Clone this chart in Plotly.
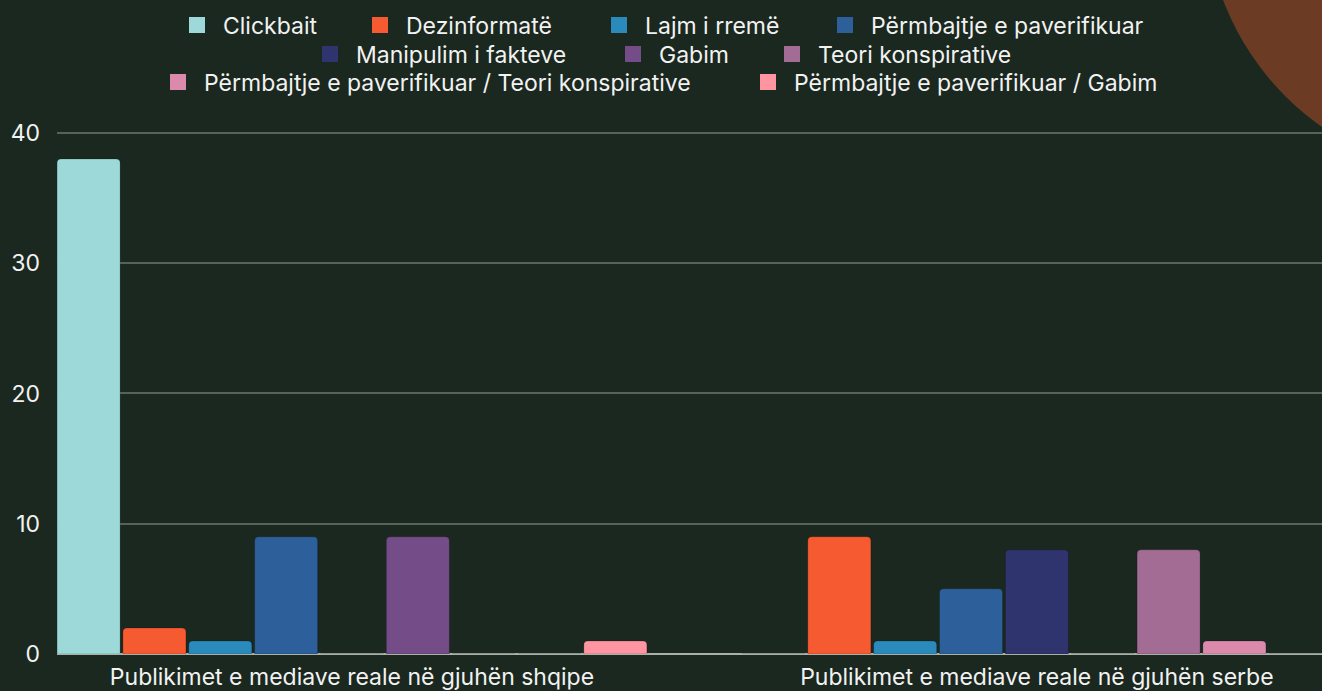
import plotly.graph_objects as go

categories = ["Publikimet e mediave reale në gjuhën shqipe",
              "Publikimet e mediave reale në gjuhën serbe"]

series_names = ["Clickbait", "Dezinformatë", "Lajm i rremë", "Përmbajtje e paverifikuar",
                "Manipulim i fakteve", "Gabim", "Teori konspirative",
                "Përmbajtje e paverifikuar / Teori konspirative",
                "Përmbajtje e paverifikuar / Gabim"]

clickbait = [38, 0]
dezinformate = [2, 9]
lajm_i_rreme = [1, 1]
permbajtje_paverifikuar = [9, 5]
manipulim = [0, 8]
gabim = [9, 0]
teori_konspirative = [0, 8]
pv_teori = [0, 1]
pv_gabim = [1, 0]

series_values = [clickbait, dezinformate, lajm_i_rreme, permbajtje_paverifikuar,
                 manipulim, gabim, teori_konspirative, pv_teori, pv_gabim]

colors = ["#9ed9da", "#f65a31", "#2a8abc", "#2d5f9a", "#30346e",
          "#744c88", "#a26c95", "#dc8aac", "#fe95a0"]

y_ticks = [0, 10, 20, 30, 40]

# legend layout: (text start x px, row centre y px)
legend_pos = [(223, 25), (406, 25), (645, 25), (871, 25),
              (356, 54), (659, 54), (818, 54),
              (204, 82), (794, 82)]

W, H = 1322, 691
BG = "#1b281f"
TXT = "#f2f2f2"
FONT = "Inter"
FS = 23

fig = go.Figure()
for i, (name, vals, col) in enumerate(zip(series_names, series_values, colors)):
    lg = "legend" if i == 0 else f"legend{i + 1}"
    fig.add_trace(go.Bar(
        name=name, x=categories, y=vals, showlegend=False, legendgroup=name,
        marker=dict(color=col, cornerradius=4,
                    line=dict(color="rgba(0,0,0,0.18)", width=1)),
    ))
    # legend-only entry (square swatch)
    fig.add_trace(go.Scatter(
        name=name, x=[None], y=[None], mode="markers", legend=lg, legendgroup=name,
        marker=dict(symbol="square", size=16, color=col), hoverinfo="skip",
    ))

legends = {}
for i, (tx, ty) in enumerate(legend_pos):
    key = "legend" if i == 0 else f"legend{i + 1}"
    legends[key] = dict(orientation="h", xref="container", yref="container",
                        x=(tx - 52) / W, xanchor="left",
                        y=1 - ty / H, yanchor="middle", itemwidth=42,
                        font=dict(family=FONT, size=FS, color=TXT),
                        bgcolor="rgba(0,0,0,0)", borderwidth=0,
                        itemclick=False, itemdoubleclick=False)

fig.update_layout(
    width=W, height=H,
    paper_bgcolor=BG, plot_bgcolor=BG,
    barmode="group", bargap=0.1347, bargroupgap=0.043,
    margin=dict(l=57, r=0, t=129, b=37),
    font=dict(family=FONT, size=FS, color=TXT),
    xaxis=dict(type="category", range=[-0.4307, 1.4163], showgrid=False,
               ticks="", showline=False, zeroline=False,
               tickfont=dict(family=FONT, size=FS, color=TXT),
               ticklabelstandoff=7),
    yaxis=dict(range=[0, 40.3], tickvals=y_ticks, showgrid=True,
               gridcolor="#56625a", gridwidth=1.5,
               zeroline=True, zerolinecolor="#a9b1a9", zerolinewidth=2,
               ticks="", showline=False, ticklabelstandoff=16,
               tickfont=dict(family=FONT, size=FS, color=TXT)),
    shapes=[dict(type="circle", xref="paper", yref="paper", layer="below",
                 x0=(1480 - 275 - 57) / 1265, x1=(1480 + 275 - 57) / 1265,
                 y0=(654 - 177) / 525, y1=(654 + 373) / 525,
                 fillcolor="#6b3b24", line=dict(width=0))],
    **legends,
)

fig.write_html("out.html", config={"displayModeBar": False},
               post_script="document.body.style.margin='0';document.body.style.overflow='hidden';")
